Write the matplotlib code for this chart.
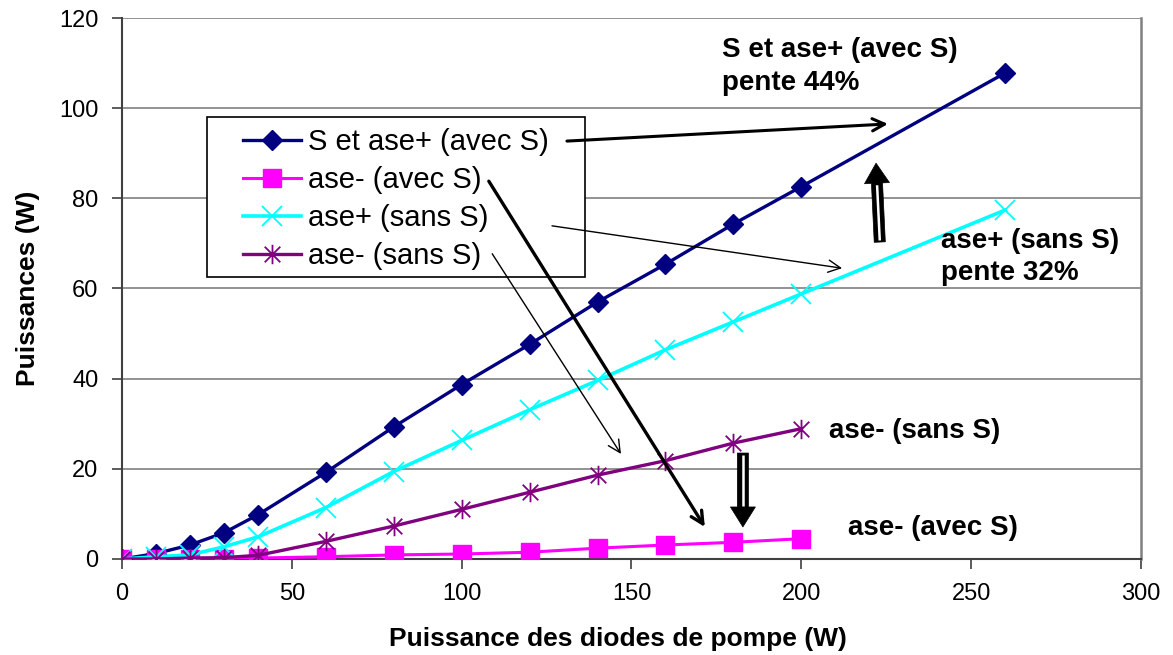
#!/usr/bin/env python3

import numpy as np
import matplotlib as mpl
import matplotlib.pyplot as plt
from matplotlib.path import Path
from matplotlib.patches import Rectangle

# pump diode power (W)
pump = [0, 10, 20, 30, 40, 60, 80, 100, 120, 140, 160, 180, 200, 260]
pump_short = [0, 10, 20, 30, 40, 60, 80, 100, 120, 140, 160, 180, 200]

# output powers (W)
s_ase_plus_avec = [0, 1.2, 3.1, 5.8, 9.8, 19.2, 29.3, 38.7, 47.6, 57.0,
                   65.4, 74.3, 82.6, 107.8]
ase_minus_avec = [0, 0, 0.1, 0.1, 0.2, 0.5, 0.9, 1.1, 1.5, 2.4, 3.1, 3.7, 4.5]
ase_plus_sans = [0, 0.5, 0.9, 2.7, 4.9, 11.4, 19.4, 26.3, 33.1, 39.6, 46.4,
                 52.6, 58.8, 77.4]
ase_minus_sans = [0, 0, 0.2, 0.3, 0.8, 3.9, 7.3, 11.0, 14.8, 18.6, 21.8,
                  25.7, 28.9]

labels = ['S et ase+ (avec S)', 'ase- (avec S)', 'ase+ (sans S)',
          'ase- (sans S)']

plt.rcParams['font.family'] = ['Liberation Sans', 'DejaVu Sans']

# six-armed asterisk: vertical bar plus an X
star = Path([(0, -1), (0, 1), (-0.8, -0.8), (0.8, 0.8), (-0.8, 0.8),
             (0.8, -0.8)],
            [Path.MOVETO, Path.LINETO] * 3)

fig = plt.figure(figsize=(11.73, 6.55), dpi=100)
ax = fig.add_axes([0.104, 0.1466, 0.8687, 0.8259])

ax.plot(pump, s_ase_plus_avec, color='#000080', lw=2.4, marker='D',
        ms=10, label=labels[0], zorder=3)
ax.plot(pump_short, ase_minus_avec, color='#FF00FF', lw=2.2, marker='s',
        ms=13, label=labels[1], zorder=3)
ax.plot(pump, ase_plus_sans, color='#00FFFF', lw=2.6, marker='x',
        ms=14, mew=1.3, label=labels[2], zorder=3)
ax.plot(pump_short, ase_minus_sans, color='#800080', lw=2.4, marker=star,
        ms=14, mew=1.3, label=labels[3], zorder=3)

ax.set_xlim(0, 300)
ax.set_ylim(0, 120)
ax.set_xticks(np.arange(0, 301, 50))
ax.set_yticks(np.arange(0, 121, 20))
ax.grid(axis='y', color='#808080', lw=1.2)
ax.set_axisbelow(True)
ax.tick_params(axis='both', direction='out', length=7, width=1.2,
               color='#404040', labelsize=17)
ax.tick_params(axis='x', pad=10)
ax.tick_params(axis='y', pad=10)
for side in ['left', 'bottom']:
    ax.spines[side].set_color('#404040')
    ax.spines[side].set_linewidth(1.5)
ax.spines['right'].set_color('#808080')
ax.spines['right'].set_linewidth(1.8)
ax.spines['top'].set_visible(False)

ax.set_xlabel('Puissance des diodes de pompe (W)', fontsize=19,
              fontweight='bold', labelpad=14)
ax.xaxis.set_label_coords(0.487, -0.125)
ax.set_ylabel('Puissances (W)', fontsize=19, fontweight='bold',
              labelpad=14)

# legend box
ax.add_patch(Rectangle((0.0834, 0.521), 0.371, 0.296, transform=ax.transAxes,
                       fc='white', ec='black', lw=1.2, zorder=4))
leg = ax.legend(loc='upper left', bbox_to_anchor=(0.1187, 0.797),
                frameon=False, fontsize=21, handlelength=2.0,
                handletextpad=0.24, labelspacing=0.35, borderpad=0,
                borderaxespad=0)
leg.set_zorder(5)

# curve labels
bold = dict(fontsize=20, fontweight='bold', ha='left', va='baseline')
ax.text(176.6, 111.4, 'S et ase+ (avec S)', **bold)
ax.text(176.6, 104.0, 'pente 44%', **bold)
ax.text(241.1, 69.0, 'ase+ (sans S)', **bold)
ax.text(241.1, 61.9, 'pente 32%', **bold)
ax.text(208.1, 26.8, 'ase- (sans S)', **bold)
ax.text(213.7, 5.3, 'ase- (avec S)', **bold)

# arrows from the legend entries to the curves
def arrow(start, end, lw):
    ax.annotate('', xy=end, xytext=start, zorder=6,
                arrowprops=dict(arrowstyle='->', lw=lw, color='black',
                                shrinkA=0, shrinkB=0, mutation_scale=22))

arrow((131.0, 92.7), (225.5, 96.5), 2.2)
arrow((108.0, 83.8), (171.6, 7.1), 2.4)
arrow((126.6, 73.9), (212.0, 64.5), 1.0)
arrow((109.0, 67.7), (146.9, 23.3), 1.0)

# block arrows with a hollow shaft
def block_arrow(start, end):
    ax.annotate('', xy=end, xytext=start, zorder=6,
                arrowprops=dict(arrowstyle='simple,head_length=0.72,'
                                'head_width=0.9,tail_width=0.4',
                                fc='black', ec='black', lw=0.5,
                                shrinkA=0, shrinkB=0, mutation_scale=20))
    t = 0.72
    ax.plot([start[0], start[0] + (end[0] - start[0]) * t],
            [start[1] + (end[1] - start[1]) * 0.02,
             start[1] + (end[1] - start[1]) * t],
            color='white', lw=1.8, solid_capstyle='butt', zorder=7)

block_arrow((223.1, 70.3), (222.0, 87.8))
block_arrow((182.8, 23.5), (182.8, 7.1))

plt.savefig('out.png', dpi=100)
